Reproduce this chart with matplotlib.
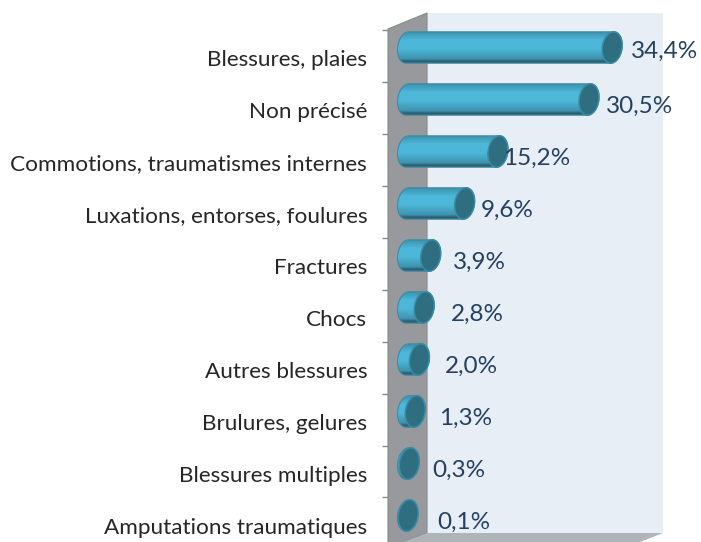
import numpy as np
import matplotlib
matplotlib.use("Agg")
import matplotlib.pyplot as plt
from matplotlib.colors import LinearSegmentedColormap
from matplotlib.patches import Polygon
from matplotlib.transforms import IdentityTransform

categories = ["Blessures, plaies", "Non précisé", "Commotions, traumatismes internes",
              "Luxations, entorses, foulures", "Fractures", "Chocs", "Autres blessures",
              "Brulures, gelures", "Blessures multiples", "Amputations traumatiques"]
values = [34.4, 30.5, 15.2, 9.6, 3.9, 2.8, 2.0, 1.3, 0.3, 0.1]
label_dx = [19, 17, 5, 16, 22, 27, 25, 24, 23, 29]
label_dy = [4, 7, 7, 7, 7, 7, 7, 7, 7, 7]

W, H = 701, 542
X0, PXU, Y0, PXC = 407.5, 5.95, 47.5, 52.0
AL, AR = 388, 663
fig = plt.figure(figsize=(W / 100, H / 100), dpi=100, facecolor="white")
ax = fig.add_axes([AL / W, 0, (AR - AL) / W, 1], facecolor="none", zorder=5)
ax.set_xlim((AL - X0) / PXU, (AR - X0) / PXU)
ax.set_ylim((H - Y0) / PXC, -Y0 / PXC)
for s in ax.spines.values():
    s.set_visible(False)

def px(points):
    return [(x, H - y) for x, y in points]

idt = IdentityTransform()
fig.patches.extend([
    Polygon(px([(427, 13), (663, 13), (663, 533), (427, 533)]), transform=idt, fc="#E7EEF6", ec="none", zorder=0),
    Polygon(px([(388, 29), (427, 13), (427, 533), (388, 548)]), transform=idt, fc="#97999C", ec="#88898C", lw=0.8, zorder=1),
    Polygon(px([(388, 548), (427, 533), (663, 533), (640, 542), (640, 548)]), transform=idt, fc="#AEB4B8", ec="none", zorder=1),
])

ax.set_yticks(np.arange(len(categories)) + 0.2)
ax.set_yticklabels(categories, fontfamily="Lato", fontsize=16.2, color="#262626")
ax.tick_params(axis="y", which="major", length=0, pad=15)
ax.set_yticks(np.arange(len(categories)) - 18 / 52, minor=True)
ax.tick_params(axis="y", which="minor", length=4.3, width=1, color="#8a8a8a")
ax.set_xticks([])

cyl = LinearSegmentedColormap.from_list("cyl", [
    (0.0, "#3A89A3"), (0.08, "#3E97B3"), (0.3, "#4DB7D9"), (0.55, "#4DB8DA"),
    (0.85, "#3F93AE"), (0.93, "#2C5A6C"), (1.0, "#3A6F84")])
grad = np.linspace(0, 1, 64).reshape(-1, 1)
A, B, TILT = 9.8, 15.8, np.radians(-9)

def ellipse(cx, cy):
    t = np.linspace(0, 2 * np.pi, 180, endpoint=False)
    x, y = A * np.cos(t), B * np.sin(t)
    return np.c_[cx + x * np.cos(TILT) - y * np.sin(TILT), cy + x * np.sin(TILT) + y * np.cos(TILT)]

def hull(c0, c1):
    e0, e1 = ellipse(*c0), ellipse(*c1)
    top, bot = np.argmax(e0[:, 1]), np.argmin(e0[:, 1])
    idx = np.arange(180)
    right = np.roll(idx, -bot)[:((top - bot) % 180) + 1]
    left = np.roll(idx, -top)[:((bot - top) % 180) + 1]
    return np.r_[e1[right], e0[left]]

for i, (v, dx, dy) in enumerate(zip(values, label_dx, label_dy)):
    c1 = ax.transData.transform((v, i))
    c0 = ax.transData.transform((0, i))
    body = Polygon(hull(c0, c1), transform=idt, fc="none", ec="#3B8CA6", lw=0.8, zorder=3)
    ax.add_patch(body)
    im = ax.imshow(grad, cmap=cyl, aspect="auto", extent=(-3, v + 3, i + 0.32, i - 0.32), zorder=2.9)
    im.set_clip_path(body)
    ax.add_patch(Polygon(ellipse(*c1), transform=idt, fc="#2F6D81", ec="#3A8BA5", lw=1.1, zorder=4))
    ax.annotate(f"{v:.1f}%".replace(".", ","), xy=(v, i), xytext=(dx * 0.72, -dy * 0.72),
                textcoords="offset points", ha="left", va="center", fontfamily="Lato",
                fontsize=17.5, color="#254061", zorder=5, annotation_clip=False)

ax.set_xlim((AL - X0) / PXU, (AR - X0) / PXU)
ax.set_ylim((H - Y0) / PXC, -Y0 / PXC)
fig.savefig("out.png", dpi=100)
